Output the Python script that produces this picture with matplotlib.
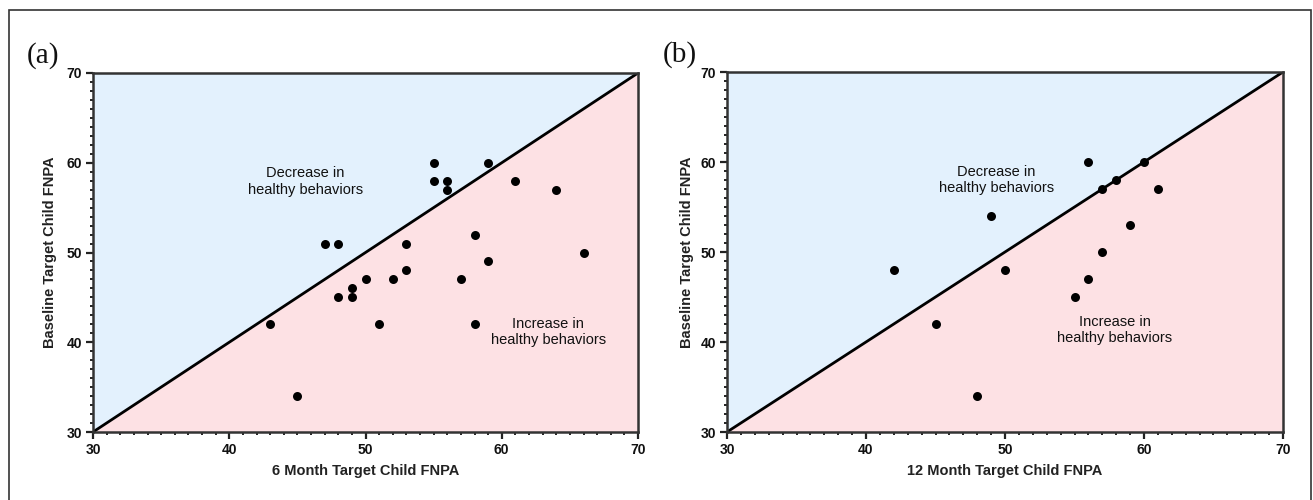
import matplotlib
matplotlib.use("Agg")
import matplotlib.pyplot as plt
from matplotlib.patches import Rectangle
from matplotlib.ticker import MultipleLocator

plt.rcParams['font.family'] = ['Liberation Sans', 'DejaVu Sans']

# Panel (a): 6 month vs baseline
a_x = [55, 59, 55, 56, 56, 61, 64, 47, 48, 53, 58, 66, 59, 53, 50, 52, 57, 49, 48, 49, 43, 51, 58, 45]
a_y = [60, 60, 58, 58, 57, 58, 57, 51, 51, 51, 52, 50, 49, 48, 47, 47, 47, 46, 45, 45, 42, 42, 42, 34]
# Panel (b): 12 month vs baseline
b_x = [56, 60, 57, 58, 61, 49, 59, 57, 42, 50, 56, 55, 45, 48]
b_y = [60, 60, 57, 58, 57, 54, 53, 50, 48, 48, 47, 45, 42, 34]

lims = [30, 70]
ticks = [30, 40, 50, 60, 70]
panel_labels = ["(a)", "(b)"]
x_labels = ["6 Month Target Child FNPA", "12 Month Target Child FNPA"]
y_label = "Baseline Target Child FNPA"
upper_text = "Decrease in\nhealthy behaviors"
lower_text = "Increase in\nhealthy behaviors"
upper_pos = [(45.6, 57.9), (49.4, 58.0)]
lower_pos = [(63.4, 41.1), (57.9, 41.3)]

fig = plt.figure(figsize=(13.13, 5.0), dpi=100)

# outer frame (bottom edge falls outside the image)
fig.patches.append(Rectangle((8.5 / 1313, -0.05), (1311 - 8.5) / 1313, 1.05 - 10.5 / 500,
                             transform=fig.transFigure, fill=False,
                             edgecolor='#333333', linewidth=1.2))

axes_rects = [
    [93 / 1313, 1 - 432 / 500, (638 - 93) / 1313, (432 - 73) / 500],
    [727 / 1313, 1 - 432 / 500, (1283 - 727) / 1313, (432 - 72) / 500],
]
panel_pos = [(43, 56), (680, 55)]
ylab_x = [57, 694]

data = [(a_x, a_y), (b_x, b_y)]
blue = '#E3F1FD'
pink = '#FDE1E4'

for i, rect in enumerate(axes_rects):
    ax = fig.add_axes(rect)
    xs, ys = data[i]
    ax.fill_between(lims, lims, [lims[1], lims[1]], color=blue, linewidth=0, zorder=0)
    ax.fill_between(lims, [lims[0], lims[0]], lims, color=pink, linewidth=0, zorder=0)
    ax.plot(lims, lims, color='black', linewidth=2.0, zorder=2, solid_capstyle='butt')
    ax.scatter(xs, ys, s=42, color='black', zorder=3, linewidths=0)
    ax.set_xlim(lims)
    ax.set_ylim(lims)
    ax.set_xticks(ticks)
    ax.set_yticks(ticks)
    ax.xaxis.set_minor_locator(MultipleLocator(1))
    ax.yaxis.set_minor_locator(MultipleLocator(1))
    ax.tick_params(which='major', direction='out', length=5, width=1.6, color='#222222',
                   labelsize=10, pad=3)
    ax.tick_params(which='minor', direction='out', length=2.5, width=1.4, color='#222222')
    for lab in ax.get_xticklabels() + ax.get_yticklabels():
        lab.set_fontweight('bold')
        lab.set_color('#111111')
    for sp in ax.spines.values():
        sp.set_linewidth(1.8)
        sp.set_color('#333333')
    ax.set_xlabel(x_labels[i], fontsize=10.5, fontweight='bold', color='#222222', labelpad=5)
    ax.set_ylabel(y_label, fontsize=10.5, fontweight='bold', color='#222222')
    ax.yaxis.set_label_coords((ylab_x[i] - rect[0] * 1313) / (rect[2] * 1313), 0.5)
    ux, uy = upper_pos[i]
    lx, ly = lower_pos[i]
    ax.text(ux, uy, upper_text, ha='center', va='center', fontsize=10.5,
            color='#111111', linespacing=1.2)
    ax.text(lx, ly, lower_text, ha='center', va='center', fontsize=10.5,
            color='#111111', linespacing=1.2)
    px, py = panel_pos[i]
    fig.text(px / 1313, 1 - py / 500, panel_labels[i], ha='center', va='center',
             fontsize=21, family=['Liberation Serif', 'DejaVu Serif'], color='#111111')

fig.savefig('out.png', dpi=100)
